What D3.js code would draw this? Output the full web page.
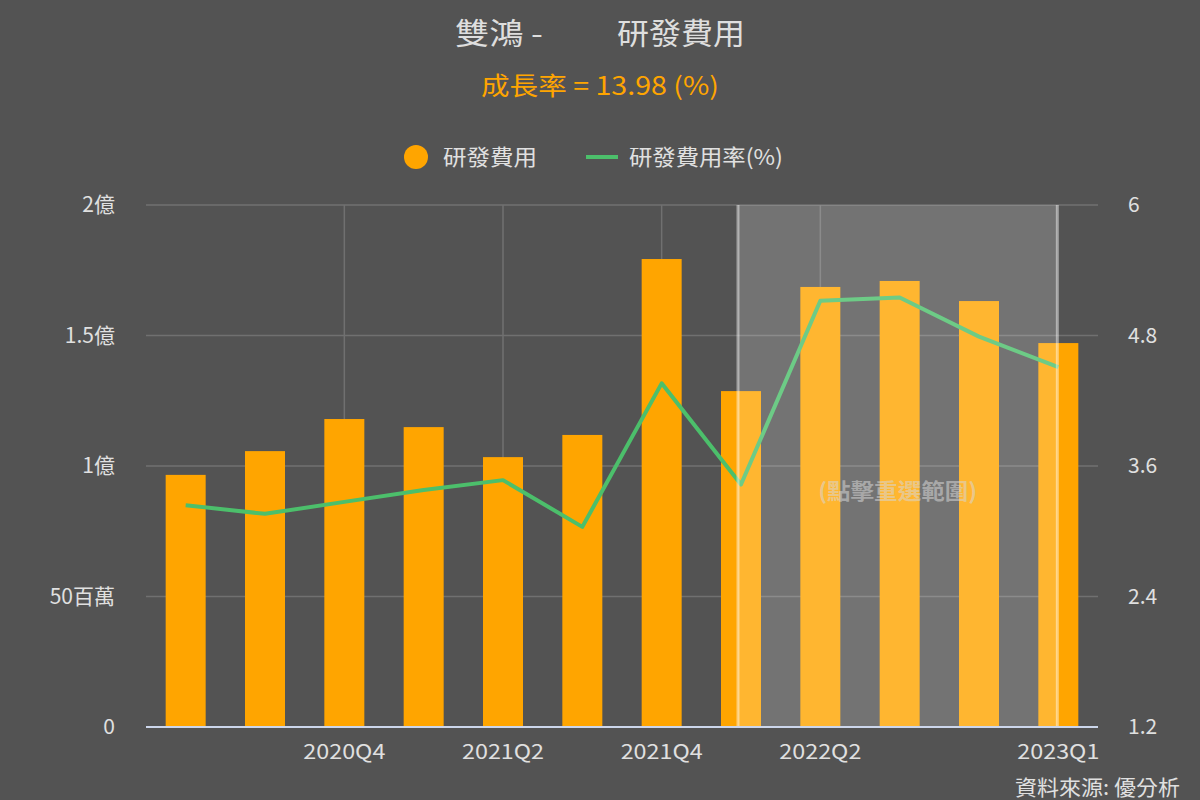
<!DOCTYPE html>
<html><head><meta charset="utf-8">
<script src="https://cdn.jsdelivr.net/npm/d3@7"></script>
<style>
html,body{margin:0;padding:0;background:#535353;}
svg{display:block;font-family:"Noto Sans CJK TC","Noto Sans",sans-serif;}
</style></head>
<body>
<svg id="c" width="1200" height="800"></svg>
<script>
const quarters = ["2020Q2","2020Q3","2020Q4","2021Q1","2021Q2","2021Q3","2021Q4","2022Q1","2022Q2","2022Q3","2022Q4","2023Q1"];
const rdExpense = [96.6e6,105.7e6,118.0e6,114.9e6,103.4e6,111.9e6,179.3e6,128.7e6,168.6e6,170.9e6,163.2e6,147.1e6];
const rdRatio = [3.24,3.16,3.27,3.38,3.47,3.04,4.36,3.43,5.12,5.15,4.79,4.51];
const shownTicks = ["2020Q4","2021Q2","2021Q4","2022Q2","2023Q1"];
const leftTicks = [0,5e7,1e8,1.5e8,2e8];
const leftTickLabels = ["0","50百萬","1億","1.5億","2億"];
const rightTicks = [1.2,2.4,3.6,4.8,6];
const selection = ["2022Q1","2023Q1"];

const svg = d3.select("#c");
const L=146, R=1098, T=205, B=727;
const x = d3.scaleBand().domain(quarters).range([L,R]).paddingInner(0).paddingOuter(0);
const yL = d3.scaleLinear().domain([0,2e8]).range([B,T]);
const yR = d3.scaleLinear().domain([1.2,6]).range([B,T]);
const cx = q => x(q)+x.bandwidth()/2;
const barW = 40;

// title
svg.append("text").attr("x",455).attr("y",44).attr("fill","#dedede").attr("font-size",30)
  .attr("textLength",88).attr("lengthAdjust","spacingAndGlyphs").text("雙鴻 -");
svg.append("text").attr("x",617).attr("y",44).attr("fill","#dedede").attr("font-size",30)
  .attr("textLength",128).attr("lengthAdjust","spacingAndGlyphs").text("研發費用");
svg.append("text").attr("x",481).attr("y",95).attr("fill","#FFA500").attr("font-size",25)
  .attr("textLength",238).attr("lengthAdjust","spacingAndGlyphs").text("成長率 = 13.98 (%)");

// legend
svg.append("circle").attr("cx",416).attr("cy",157).attr("r",12).attr("fill","#FFA500");
svg.append("text").attr("x",443).attr("y",165).attr("fill","#e0e0e0").attr("font-size",22)
  .attr("textLength",94).attr("lengthAdjust","spacingAndGlyphs").text("研發費用");
svg.append("line").attr("x1",586).attr("x2",618).attr("y1",157).attr("y2",157).attr("stroke","#4CBF6B").attr("stroke-width",4);
svg.append("text").attr("x",629).attr("y",165).attr("fill","#e0e0e0").attr("font-size",22)
  .attr("textLength",154).attr("lengthAdjust","spacingAndGlyphs").text("研發費用率(%)");

// grid
const g = svg.append("g");
g.selectAll(".hg").data(leftTicks).join("line")
  .attr("x1",L).attr("x2",R).attr("y1",d=>yL(d)).attr("y2",d=>yL(d))
  .attr("stroke","#707070").attr("stroke-width",1.5);
g.selectAll(".vg").data(shownTicks.slice(0,4)).join("line")
  .attr("x1",d=>cx(d)).attr("x2",d=>cx(d)).attr("y1",T).attr("y2",B)
  .attr("stroke","#707070").attr("stroke-width",1.5);

// bars
svg.append("g").selectAll("rect").data(quarters).join("rect")
  .attr("x",(d)=>cx(d)-barW/2).attr("width",barW)
  .attr("y",(d,i)=>yL(rdExpense[i])).attr("height",(d,i)=>B-yL(rdExpense[i]))
  .attr("fill","#FFA500");

// line
const line = d3.line().x((d,i)=>cx(quarters[i])).y(d=>yR(d));
svg.append("path").datum(rdRatio).attr("d",line).attr("fill","none")
  .attr("stroke","#4CBF6B").attr("stroke-width",4).attr("stroke-linejoin","round");

// selection overlay
const sx0 = cx(selection[0])-3, sx1 = cx(selection[1])-1;
svg.append("rect").attr("x",sx0).attr("y",T).attr("width",sx1-sx0).attr("height",B-T)
  .attr("fill","rgba(255,255,255,0.19)");
svg.append("line").attr("x1",sx0).attr("x2",sx0).attr("y1",T).attr("y2",B).attr("stroke","rgba(255,255,255,0.45)").attr("stroke-width",3);
svg.append("line").attr("x1",sx1).attr("x2",sx1).attr("y1",T).attr("y2",B).attr("stroke","rgba(255,255,255,0.45)").attr("stroke-width",3);
svg.append("text").attr("x",(sx0+sx1)/2).attr("y",499).attr("text-anchor","middle")
  .attr("fill","rgba(215,215,215,0.55)").attr("font-size",22).attr("font-weight","bold")
  .attr("textLength",159).attr("lengthAdjust","spacingAndGlyphs").text("(點擊重選範圍)");

// baseline
svg.append("line").attr("x1",L).attr("x2",R).attr("y1",B).attr("y2",B).attr("stroke","#ccd6eb").attr("stroke-width",2);

// axes
const axL = d3.axisLeft(yL).tickValues(leftTicks).tickFormat((d,i)=>leftTickLabels[i]).tickSize(0).tickPadding(31);
const gl = svg.append("g").attr("transform",`translate(${L},0)`).call(axL);
const axR = d3.axisRight(yR).tickValues(rightTicks).tickFormat(d=>d3.format("")(d)).tickSize(0).tickPadding(30);
const gr = svg.append("g").attr("transform",`translate(${R},0)`).call(axR);
const axB = d3.axisBottom(x).tickValues(shownTicks).tickSize(0).tickPadding(18);
const gb = svg.append("g").attr("transform",`translate(0,${B})`).call(axB);
[gl,gr,gb].forEach(a=>{
  a.select(".domain").remove();
  a.selectAll("text").attr("fill","#e0e0e0").attr("font-size",21).attr("font-family","'Noto Sans CJK TC','Noto Sans',sans-serif");
});
gb.selectAll("text").attr("font-size",20).attr("textLength",82).attr("lengthAdjust","spacingAndGlyphs");

// source
svg.append("text").attr("x",1180).attr("y",795).attr("text-anchor","end")
  .attr("fill","#e0e0e0").attr("font-size",21)
  .attr("textLength",165).attr("lengthAdjust","spacingAndGlyphs").text("資料來源: 優分析");
</script>
</body></html>
